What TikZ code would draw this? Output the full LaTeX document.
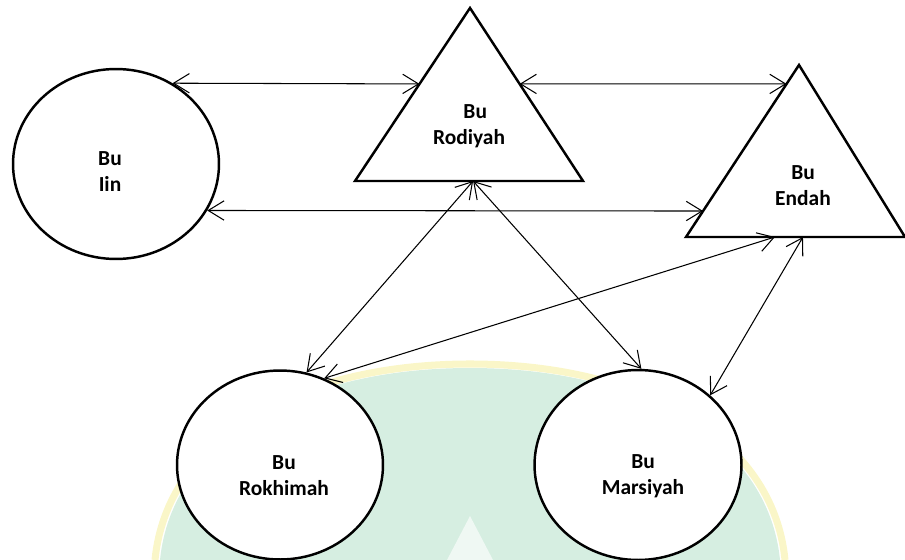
\documentclass[tikz,border=0pt]{standalone}
\usepackage{fontspec}
\setmainfont{Carlito}
\usetikzlibrary{arrows.meta,calc,shapes.geometric}
\definecolor{figline}{RGB}{0,0,0}
\definecolor{wmgreen}{RGB}{214,238,225}
\definecolor{wmyellow}{RGB}{250,246,200}
\tikzset{
  pers/.style ={ellipse, draw=figline, fill=white, line width=1.4pt, inner sep=0pt},
  tri/.style  ={draw=figline, fill=white, line width=1.4pt, line join=miter},
  lbl/.style  ={font=\fontsize{12.2}{14.8}\selectfont\bfseries, align=center, inner sep=1pt},
  rel/.style  ={draw=figline, line width=0.6pt, {Straight Barb[length=9pt,width=11pt]}-{Straight Barb[length=9pt,width=11pt]}},
}

\begin{document}
\begin{tikzpicture}[x=0.02cm,y=-0.02cm]
  \useasboundingbox (0,0) rectangle (905,560);
  % faint watermark behind
  \fill[wmgreen] (160,560) .. controls (172,440) and (300,368) .. (470,368) .. controls (640,368) and (768,440) .. (780,560) -- cycle;
  \draw[wmyellow,line width=4pt] (155,560) .. controls (167,436) and (300,364) .. (470,364) .. controls (640,364) and (773,436) .. (785,560);
  \fill[white!60!wmgreen] (447,560) -- (470,516) -- (493,560) -- cycle;
  % circles
  \node[pers, minimum width=4.12cm, minimum height=3.8cm] (iin) at (116,164) {};
  \node[pers, minimum width=4.12cm, minimum height=3.78cm] (rok) at (280,465) {};
  \node[pers, minimum width=4.14cm, minimum height=3.8cm] (mar) at (638,465) {};
  % triangles
  \coordinate (rodA) at (470,8);
  \coordinate (rodL) at (355,181);
  \coordinate (rodR) at (583,181);
  \draw[tri] (rodL) -- (rodA) -- (rodR) -- cycle;
  \coordinate (endA) at (799,65);
  \coordinate (endL) at (686,237);
  \coordinate (endR) at (905,237);
  \draw[tri] (endL) -- (endA) -- (endR) -- cycle;
  % names
  \node[lbl] (iin-txt) at (110,172) {Bu\\Iin};
  \node[lbl] (rod-txt) at (469,126) {\hspace*{0.25cm}Bu\\Rodiyah};
  \node[lbl] (end-txt) at (803,186) {Bu\\Endah};
  \node[lbl] (rok-txt) at (284,476) {Bu\\Rokhimah};
  \node[lbl] (mar-txt) at (643,476) {Bu\\Marsiyah};
  % ends on the triangle sides
  \coordinate (rod-w) at ($(rodL)!0.561!(rodA)$);
  \coordinate (rod-e) at ($(rodR)!0.561!(rodA)$);
  \coordinate (rod-s) at ($(rodL)!0.518!(rodR)$);
  \coordinate (end-w1) at ($(endL)!0.89!(endA)$);
  \coordinate (end-w2) at ($(endL)!0.151!(endA)$);
  \coordinate (end-s1) at ($(endL)!0.406!(endR)$);
  \coordinate (end-s2) at ($(endL)!0.534!(endR)$);
  % relations
  \draw[rel] (iin.55) -- (rod-w);
  \draw[rel] (rod-e) -- (end-w1);
  \draw[rel] (iin.-27) -- (end-w2);
  \draw[rel] (rod-s) -- (rok.74);
  \draw[rel] (rod-s) -- (mar.88);
  \draw[rel] (rok.63) -- (end-s1);
  \draw[rel] (end-s2) -- (mar.44);
\end{tikzpicture}
\end{document}
